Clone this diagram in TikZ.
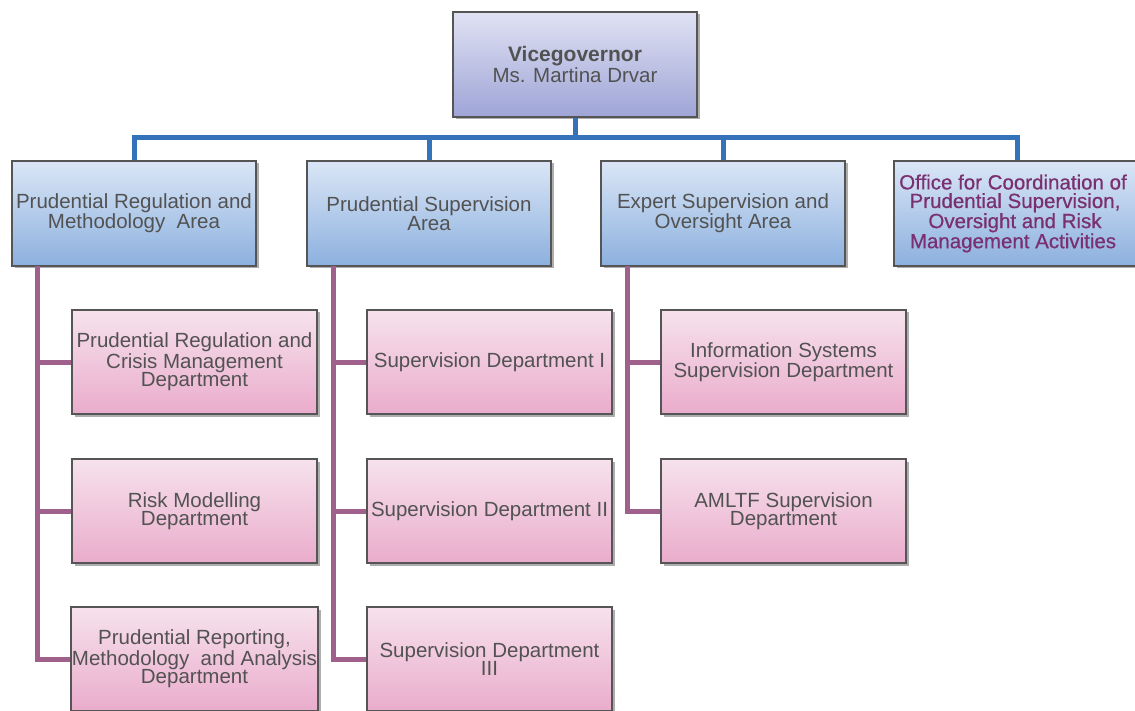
\documentclass[tikz,border=0pt]{standalone}
\usepackage{fontspec}
\setmainfont{Liberation Sans}
\usetikzlibrary{shadows}
\definecolor{txtgray}{RGB}{82,82,82}
\definecolor{bord}{RGB}{85,85,85}
\definecolor{blueln}{RGB}{52,114,186}
\definecolor{pinkln}{RGB}{160,96,140}
\definecolor{vgtop}{RGB}{224,226,243}
\definecolor{vgbot}{RGB}{158,164,214}
\definecolor{bltop}{RGB}{218,230,246}
\definecolor{blbot}{RGB}{140,176,222}
\definecolor{pktop}{RGB}{246,226,236}
\definecolor{pkbot}{RGB}{234,172,204}
\definecolor{offtxt}{RGB}{122,48,112}
\tikzset{
  boxbase/.style={draw=bord, line width=1.1pt, rectangle, align=center,
    text=txtgray, inner sep=1pt,
    font=\fontsize{20.5}{18.6}\selectfont,
    drop shadow={shadow xshift=2.5pt, shadow yshift=-2.5pt, opacity=0.45, fill=black!70}},
  vgbox/.style={boxbase, top color=vgtop, bottom color=vgbot,
    minimum width=244pt, minimum height=105pt},
  areabox/.style={boxbase, top color=bltop, bottom color=blbot,
    minimum width=244pt, minimum height=105pt},
  deptbox/.style={boxbase, top color=pktop, bottom color=pkbot,
    minimum width=245pt, minimum height=104pt},
  blueline/.style={draw=blueln, line width=5pt},
  pinkline/.style={draw=pinkln, line width=5pt}
}
\begin{document}
\begin{tikzpicture}[x=1pt,y=-1pt]
\useasboundingbox (0,0) rectangle (1135,711);
\fill[white] (0,0) rectangle (1135,711);

\coordinate (bar) at (575,138);
\coordinate (c1) at (37,266);
\coordinate (c2) at (333,266);
\coordinate (c3) at (627,266);

% top
\node[vgbox] (vg) at (575,64.5) {\fontsize{21}{18.5}\selectfont{\bfseries Vicegovernor}\\Ms. Martina Drvar};

% areas
\node[areabox] (a1) at (134,213.5) {Prudential Regulation and\\Methodology\ \ Area};
\node[areabox] (a2) at (429,213.5) {Prudential Supervision\\Area};
\node[areabox] (a3) at (723,213.5) {Expert Supervision and\\Oversight Area};
\node[areabox, minimum width=246pt, text=offtxt,
  font=\fontsize{20.5}{18.6}\selectfont\addfontfeature{FakeBold=0.6}] (a4) at (1017,213.5)
  {\hspace*{-4pt}Office for Coordination of\hspace*{4pt}\\\hspace*{-4pt}Prudential Supervision,\hspace*{4pt}\\\hspace*{-4pt}Oversight and Risk\hspace*{4pt}\\\hspace*{-4pt}Management Activities\hspace*{4pt}};

% departments
\node[deptbox] (d11) at (194.5,362) {Prudential Regulation and\\Crisis Management\\Department};
\node[deptbox] (d12) at (194.5,511) {Risk Modelling\\Department};
\node[deptbox] (d13) at (194.5,659) {Prudential Reporting,\\Methodology\ \ and Analysis\\Department};
\node[deptbox] (d21) at (489.5,362) {Supervision Department I};
\node[deptbox] (d22) at (489.5,511) {Supervision Department II};
\node[deptbox] (d23) at (489.5,659) {Supervision Department\\III};
\node[deptbox] (d31) at (783.5,362) {Information Systems\\Supervision Department};
\node[deptbox] (d32) at (783.5,511) {AMLTF Supervision\\Department};

% blue connectors
\draw[blueline] (vg.south) -- (bar);
\draw[blueline] ([xshift=-2.5pt]a1.north |- bar) -- ([xshift=2.5pt]a4.north |- bar);
\draw[blueline] (a1.north |- bar) -- (a1.north);
\draw[blueline] (a2.north |- bar) -- (a2.north);
\draw[blueline] (a3.north |- bar) -- (a3.north);
\draw[blueline] (a4.north |- bar) -- (a4.north);

% pink connectors
\draw[pinkline, line join=miter] (c1) |- (d13.west);
\draw[pinkline] (c1 |- d11.west) -- (d11.west);
\draw[pinkline] (c1 |- d12.west) -- (d12.west);
\draw[pinkline, line join=miter] (c2) |- (d23.west);
\draw[pinkline] (c2 |- d21.west) -- (d21.west);
\draw[pinkline] (c2 |- d22.west) -- (d22.west);
\draw[pinkline, line join=miter] (c3) |- (d32.west);
\draw[pinkline] (c3 |- d31.west) -- (d31.west);
\end{tikzpicture}
\end{document}
